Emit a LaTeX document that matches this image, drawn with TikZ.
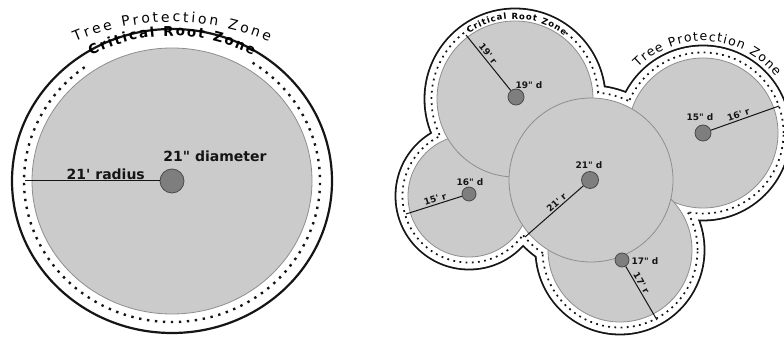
\documentclass[tikz,border=0pt]{standalone}
\usepackage{fontspec}
\setmainfont{DejaVu Sans}[Ligatures=TeXOff]
\usetikzlibrary{positioning,calc,decorations.text}
\definecolor{crz}{HTML}{CBCBCB}
\definecolor{crzedge}{HTML}{8E8E8E}
\definecolor{trunk}{HTML}{7E7E7E}
\definecolor{trunkedge}{HTML}{4A4A4A}
\definecolor{ink}{HTML}{151515}
\newcommand{\tpzfont}{\fontsize{14pt}{16pt}\selectfont}
\newcommand{\crzfont}{\bfseries\fontsize{13.5pt}{16pt}\selectfont}
\newcommand{\tpzsmall}{\fontsize{12.5pt}{14pt}\selectfont}
\newcommand{\crzsmall}{\bfseries\fontsize{8.5pt}{10pt}\selectfont}
\tikzset{
  zone/.style   ={fill=crz, draw=crzedge, line width=0.8pt},
  trk/.style    ={circle, fill=trunk, draw=trunkedge, line width=0.8pt, inner sep=0pt},
  tpzline/.style={draw=ink, line width=2.2pt},
  dotsL/.style  ={draw=ink, line width=2.4pt, dash pattern=on 2.4pt off 5.6pt},
  dotsR/.style  ={draw=ink, line width=1.8pt, dash pattern=on 1.8pt off 4.4pt},
  rad/.style    ={draw=ink, line width=1pt},
  big/.style    ={font=\bfseries\fontsize{14pt}{16pt}\selectfont, text=ink, inner sep=1pt},
  sml/.style    ={font=\bfseries\fontsize{9pt}{10pt}\selectfont, text=ink, inner sep=1.5pt},
  arctext/.style={decorate, decoration={text along path, text align={fit to path}, text={#1}}},
}

\begin{document}
\begin{tikzpicture}[x=1pt,y=1pt]
  \useasboundingbox (0,0) rectangle (784,337);

  % ---- single tree ----
  \coordinate (lc) at (172,156);
  \draw[zone] (lc) ellipse[x radius=140pt, y radius=133pt];
  \draw[dotsL] ($(lc)+(57:148pt and 141pt)$)
        arc[start angle=57, end angle=-235, x radius=148pt, y radius=141pt];
  \draw[tpzline] (lc) ellipse[x radius=160pt, y radius=152pt];

  \node[trk, minimum size=24pt] (ltr) at (172,156) {};
  \coordinate (lend) at (25,156);
  \draw[rad] (lend) -- (ltr) node[big, pos=0.6, above] {21' radius};
  \node[big] (ldia) at (215,181) {21" diameter};

  % zone names
  \coordinate (ltp) at (172,67);
  \path[arctext={|\tpzfont|Tree Protection Zone}]
        ($(ltp)+(113:248pt)$) arc[start angle=113, end angle=67, radius=248pt];
  \coordinate (lcr) at (172,123);
  \path[arctext={|\crzfont|Critical Root Zone}]
        ($(lcr)+(117:178pt)$) arc[start angle=117, end angle=63, radius=178pt];

  % ---- group of five trees ----
  \coordinate (cA) at (515,238);
  \coordinate (cB) at (591,157);
  \coordinate (cC) at (469,141);
  \coordinate (cD) at (703,204);
  \coordinate (cE) at (620,87);

  % outer line round the whole group
  \fill[ink]   (cA) circle (91.4pt) (cB) circle (95.4pt) (cC) circle (74.4pt)
               (cD) circle (88.4pt) (cE) circle (85.4pt);
  \fill[white] (cA) circle (89.6pt) (cB) circle (93.6pt) (cC) circle (72.6pt)
               (cD) circle (86.6pt) (cE) circle (83.6pt);
  % dotted line round the whole group
  \draw[dotsR] (cA) circle (83.5pt) (cB) circle (87.5pt) (cC) circle (66.5pt)
               (cD) circle (80.5pt) (cE) circle (77.5pt);
  \fill[white] (cA) circle (82.3pt) (cB) circle (86.3pt) (cC) circle (65.3pt)
               (cD) circle (79.3pt) (cE) circle (76.3pt);
  \draw[white, line width=6pt] ($(cA)+(123:83.5pt)$) arc[start angle=123, end angle=54, radius=83.5pt];

  % critical root zones
  \draw[zone] (cC) circle (61pt);
  \draw[zone] (cA) circle (78pt);
  \draw[zone] (cD) circle (75pt);
  \draw[zone] (cE) circle (72pt);
  \draw[zone] (cB) circle (82pt);

  % trunks
  \node[trk, minimum size=16pt] (tA) at (516,240) {};
  \node[trk, minimum size=17pt] (tB) at (590,157) {};
  \node[trk, minimum size=14pt] (tC) at (469,143) {};
  \node[trk, minimum size=16pt] (tD) at (703,204) {};
  \node[trk, minimum size=14pt] (tE) at (622,77) {};

  % radii
  \coordinate (eA) at (466,302);
  \coordinate (eB) at (525,100);
  \coordinate (eC) at (406,123);
  \coordinate (eD) at (779,231);
  \coordinate (eE) at (657,17);
  \draw[rad] (eA) -- (tA) node[sml, sloped, above, pos=0.4]  {19' r};
  \draw[rad] (eB) -- (tB) node[sml, sloped, above, pos=0.6]  {21' r};
  \draw[rad] (eC) -- (tC) node[sml, sloped, above, pos=0.55] {15' r};
  \draw[rad] (tD) -- (eD) node[sml, sloped, above, pos=0.43] {16' r};
  \draw[rad] (tE) -- (eE) node[sml, sloped, above, pos=0.36] {17' r};

  % diameters
  \node[sml] (dA) at (529,252) {19" d};
  \node[sml] (dB) at (589,172) {21" d};
  \node[sml] (dC) at (470,155) {16" d};
  \node[sml] (dD) at (700,220) {15" d};
  \node[sml] (dE) at (645,76)  {17" d};

  % zone names
  \path[arctext={|\crzsmall|Critical Root Zone}]
        ($(cA)+(125:80pt)$) arc[start angle=125, end angle=52, radius=80pt];
  \path[arctext={|\tpzsmall|Tree Protection Zone}]
        ($(cD)+(135:92pt)$) arc[start angle=135, end angle=38, radius=92pt];

\end{tikzpicture}
\end{document}
